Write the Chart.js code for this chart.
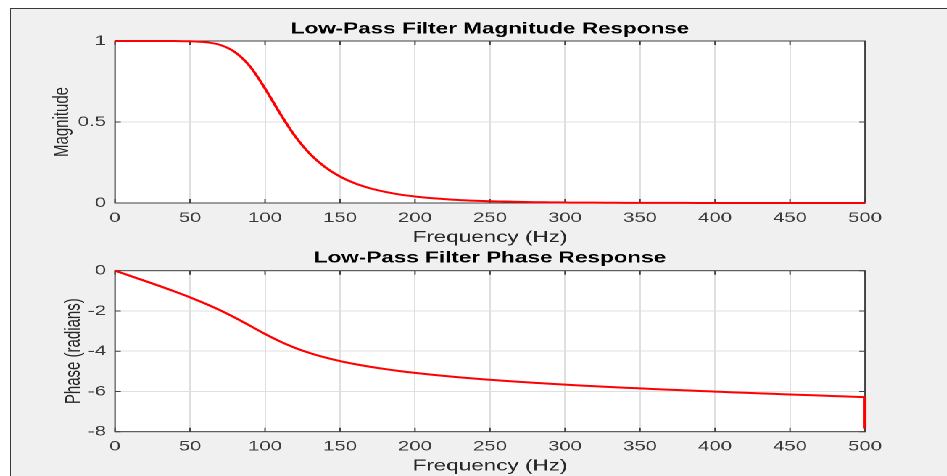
<!DOCTYPE html>
<html><head><meta charset="utf-8">
<script src="https://cdn.jsdelivr.net/npm/chart.js@4.4.1/dist/chart.umd.min.js"></script>
<style>
html,body{margin:0;padding:0;background:#fff;width:947px;height:476px;overflow:hidden;}
#frame{position:absolute;left:10px;top:8px;width:950px;height:480px;background:#f0f0f0;border-left:1px solid #3a3a3a;border-top:1px solid #3a3a3a;}
#wrap{position:absolute;left:0;top:0;width:653.1px;height:476px;transform:scaleX(1.45);transform-origin:0 0;}
#c1{position:absolute;left:0;top:0;width:653.1px;height:250px;}
#c2{position:absolute;left:0;top:240px;width:653.1px;height:236px;}
</style></head><body>
<div id="frame"></div>
<div id="wrap"><div id="c1"><canvas id="top"></canvas></div><div id="c2"><canvas id="bot"></canvas></div></div>
<script>
// ---- data ----
const freq = [0,10,20,30,40,50,60,70,80,90,100,110,120,130,140,150,160,170,180,190,200,
  210,220,230,240,250,260,270,280,290,300,310,320,330,340,350,360,370,380,390,400,
  410,420,430,440,450,460,470,480,490,500];
const magnitude = [1,1,1,1,0.9997,0.9984,0.993,0.976,0.931,0.843,0.707,0.553,0.413,0.303,0.222,0.163,0.121,0.091,0.069,0.052,0.040,
  0.031,0.024,0.018,0.014,0.011,0.009,0.007,0.005,0.004,0.003,0.002,0.002,0.0015,0.001,0.001,0.0006,0.0005,0.0004,0.0003,0.0002,
  0.0001,0.0001,0.0001,0,0,0,0,0,0,0];
const phase = [0,-0.253,-0.509,-0.770,-1.040,-1.323,-1.629,-1.964,-2.335,-2.736,-3.142,-3.514,-3.833,-4.096,-4.311,-4.491,-4.642,-4.773,-4.887,-4.988,-5.077,
  -5.158,-5.233,-5.300,-5.363,-5.420,-5.475,-5.526,-5.572,-5.618,-5.661,-5.702,-5.740,-5.778,-5.814,-5.848,-5.882,-5.915,-5.946,-5.977,-6.007,
  -6.037,-6.065,-6.093,-6.121,-6.149,-6.176,-6.203,-6.230,-6.257,-6.283];
const phaseNyquistDrop = -7.84;
const freqTicks = [0,50,100,150,200,250,300,350,400,450,500];
const magTicks = [0,0.5,1];
const phaseTicks = [-8,-6,-4,-2,0];
const titles = ['Low-Pass Filter Magnitude Response','Low-Pass Filter Phase Response'];
const yTitles = ['Magnitude','Phase (radians)'];
const xTitle = 'Frequency (Hz)';

// ---- layout ----
const SX = 1.45;
const W = 947 / SX;
const PLOT_LEFT = 115 / SX;
const PLOT_RIGHT = 865 / SX;
const FONT = '"Liberation Sans", Arial, Helvetica, sans-serif';

const boxPlugin = {
  id: 'box',
  beforeDraw(chart) {
    const {ctx, chartArea: a} = chart;
    ctx.save();
    ctx.fillStyle = '#ffffff';
    ctx.fillRect(a.left, a.top, a.right - a.left, a.bottom - a.top);
    ctx.restore();
  },
  beforeDatasetsDraw(chart) {
    const {ctx, chartArea: a, scales: {x, y}} = chart;
    ctx.save();
    ctx.strokeStyle = '#404040';
    ctx.lineWidth = 1;
    ctx.strokeRect(a.left, a.top, a.right - a.left, a.bottom - a.top);
    ctx.beginPath();
    x.ticks.forEach(t => {
      const px = x.getPixelForValue(t.value);
      ctx.moveTo(px, a.bottom); ctx.lineTo(px, a.bottom - 4);
      ctx.moveTo(px, a.top); ctx.lineTo(px, a.top + 4);
    });
    y.ticks.forEach(t => {
      const py = y.getPixelForValue(t.value);
      ctx.moveTo(a.left, py); ctx.lineTo(a.left + 4, py);
      ctx.moveTo(a.right, py); ctx.lineTo(a.right - 4, py);
    });
    ctx.stroke();
    ctx.restore();
  }
};

function makeChart(id, datasets, yMin, yMax, yTicks, yTitle, title, o) {
  return new Chart(document.getElementById(id), {
    type: 'line',
    data: {datasets},
    options: {
      responsive: true, maintainAspectRatio: false, animation: false, devicePixelRatio: 2,
      layout: {padding: {left: 0, right: W - PLOT_RIGHT, top: 0, bottom: 0}},
      plugins: {
        legend: {display: false}, tooltip: {enabled: false},
        title: {display: true, text: title, fullSize: false, color: '#000',
          font: {family: FONT, size: 15.5, weight: 'bold'},
          padding: {top: o.titleTop, bottom: o.titleBottom}}
      },
      scales: {
        x: {
          type: 'linear', min: 0, max: 500,
          afterBuildTicks(s) { s.ticks = freqTicks.map(v => ({value: v})); },
          afterFit(s) { s.height = o.xHeight; },
          grid: {color: '#dfdfdf', drawTicks: false}, border: {display: false},
          ticks: {color: '#3a3a3a', font: {family: FONT, size: 14}, padding: o.xTickPad, maxRotation: 0, autoSkip: false,
            callback: v => String(v)},
          title: {display: true, text: xTitle, color: '#262626', font: {family: FONT, size: 15.5}, padding: {top: 0, bottom: o.xTitlePad}}
        },
        y: {
          type: 'linear', min: yMin, max: yMax,
          afterBuildTicks(s) { s.ticks = yTicks.map(v => ({value: v})); },
          afterFit(s) { s.width = PLOT_LEFT; },
          grid: {color: '#dfdfdf', drawTicks: false}, border: {display: false},
          ticks: {color: '#3a3a3a', font: {family: FONT, size: 14}, padding: 6.2, autoSkip: false,
            callback: v => String(v)},
          title: {display: true, text: yTitle, color: '#262626', font: {family: FONT, size: 15}, padding: {top: o.yTitlePad, bottom: 0}}
        }
      }
    },
    plugins: [boxPlugin]
  });
}

const red = {borderColor: '#ff0000', backgroundColor: '#ff0000', borderWidth: 2, pointRadius: 0, clip: false};

makeChart('top',
  [Object.assign({data: freq.map((f, i) => ({x: f, y: magnitude[i]})), cubicInterpolationMode: 'monotone'}, red)],
  0, 1, magTicks, yTitles[0], titles[0],
  {titleTop: 20, titleBottom: 2.4, xHeight: 47, xTickPad: 6.6, xTitlePad: 3.2, yTitlePad: 34.1});

makeChart('bot',
  [Object.assign({data: freq.map((f, i) => ({x: f, y: phase[i]})), cubicInterpolationMode: 'monotone'}, red),
   Object.assign({data: [{x: freq[freq.length - 1], y: phase[phase.length - 1]}, {x: freq[freq.length - 1], y: phaseNyquistDrop}], tension: 0}, red)],
  -8, 0, phaseTicks, yTitles[1], titles[1],
  {titleTop: 8.7, titleBottom: 3.4, xHeight: 44.3, xTickPad: 6.6, xTitlePad: 0.7, yTitlePad: 42});
</script>
</body></html>
